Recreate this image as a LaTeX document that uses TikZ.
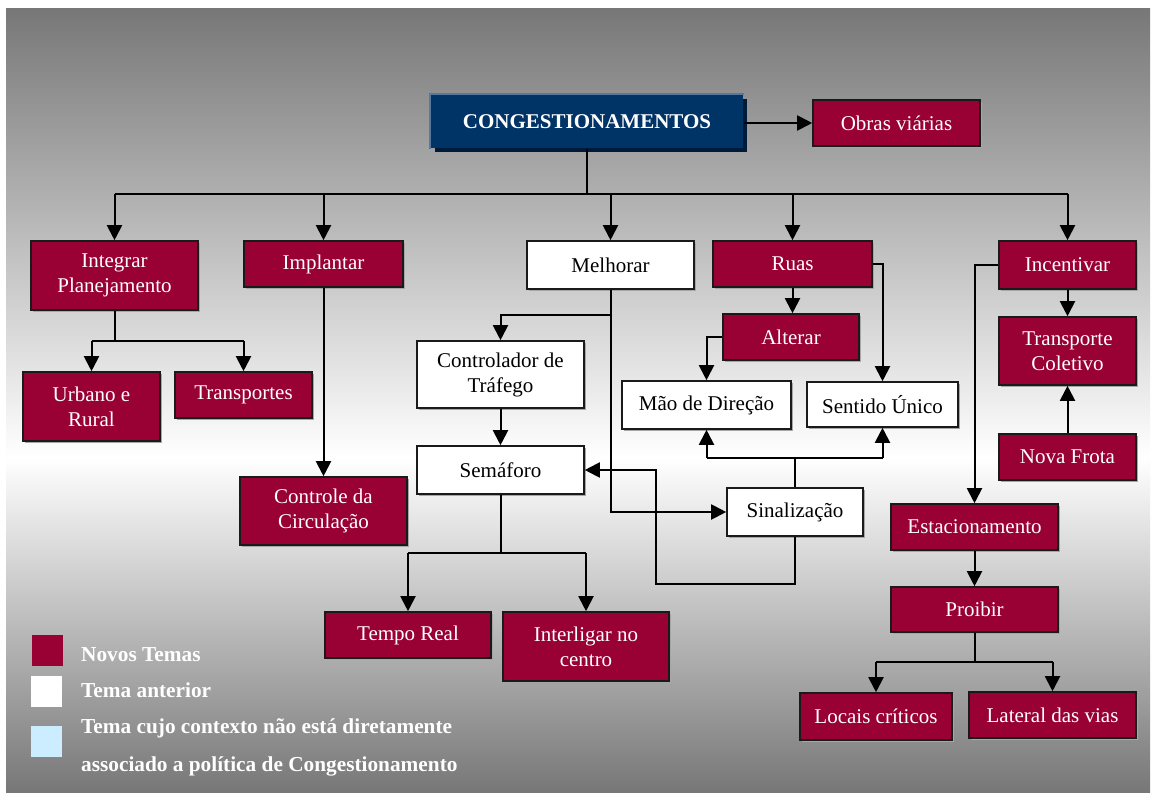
\documentclass[tikz,border=0pt]{standalone}
\usepackage{fontspec}
\setmainfont{Liberation Serif}
\usetikzlibrary{arrows.meta,shadows,calc}
\definecolor{maroon}{HTML}{990033}
\definecolor{navy}{HTML}{003366}
\definecolor{navyedge}{HTML}{5577A0}
\definecolor{navyshadow}{HTML}{001A3A}
\definecolor{bgray}{HTML}{777777}
\definecolor{lblue}{HTML}{CCECFF}
\definecolor{edge}{HTML}{1A1A1A}
\begin{document}
\begin{tikzpicture}[x=1pt,y=-1pt,
 basebox/.style={line width=1.6pt, inner sep=0pt, align=center, font=\fontsize{21}{25}\selectfont},
 box/.style={basebox, draw=edge, general shadow={fill=black!35, shadow xshift=2pt, shadow yshift=-2pt}},
 newbox/.style={box, fill=maroon, text=white},
 oldbox/.style={box, fill=white, text=black},
 sz/.style 2 args={minimum width=#1pt, minimum height=#2pt},
 conn/.style={line width=2pt, draw=black},
 arr/.style={conn, -{Triangle[length=15pt,width=15pt]}},
 legsq/.style={inner sep=0pt, minimum width=31pt, minimum height=31pt},
 legtext/.style={anchor=base west, text=white, font=\fontsize{21.3}{25}\selectfont\bfseries, inner sep=0pt}
]
\useasboundingbox (0,0) rectangle (1157,795);
\fill[white] (0,0) rectangle (1157,795);
\shade[top color=bgray, bottom color=white] (6,8) rectangle (1150,458);
\shade[top color=white, bottom color=bgray] (6,457.5) rectangle (1150,792);

% title
\node[basebox, fill=navy, text=white, font=\fontsize{21}{25}\selectfont\bfseries,
      sz={312}{53}, general shadow={fill=navyshadow, shadow xshift=4pt, shadow yshift=-4pt}] (cong) at (587,121.5) {CONGESTIONAMENTOS};
\draw[navyedge, line width=2pt] (cong.south west) -- (cong.north west) -- (cong.north east);
\node[newbox, sz={167}{46}] (obras) at (896.5,123) {Obras viárias};

% second row
\node[newbox, sz={167}{69}] (integ) at (114.5,275.5) {Integrar\\Planejamento};
\node[newbox, sz={159}{46}] (impl) at (323.5,264) {Implantar};
\node[oldbox, sz={167}{48}] (melh) at (610.5,265) {Melhorar};
\node[newbox, sz={159}{46}] (ruas) at (792.5,264) {Ruas};
\node[newbox, sz={137}{48}] (incent) at (1067.5,265) {Incentivar};

% left branch
\node[newbox, sz={137}{69}] (urbano) at (91.5,406.5) {Urbano e\\Rural};
\node[newbox, sz={137}{46}] (transp) at (243.5,395) {Transportes};
\node[newbox, sz={167}{68}] (controle) at (323.5,511) {Controle da\\Circulação};

% middle
\node[oldbox, sz={167}{67}] (ctrl) at (500.5,374.5) {Controlador de\\Tráfego};
\node[oldbox, sz={167}{48}] (semaf) at (500.5,470) {Semáforo};
\node[newbox, sz={166}{46}] (tempo) at (408,635) {Tempo Real};
\node[newbox, sz={166}{69}] (interl) at (586,646.5) {Interligar no\\centro};

\node[newbox, sz={136}{46}] (alterar) at (791,337) {Alterar};
\node[oldbox, sz={169}{48}] (mao) at (706.5,405) {Mão de Direção};
\node[oldbox, sz={151}{45}] (sentido) at (882.5,404.5) {Sentido Único};
\node[oldbox, sz={136}{48}] (sinal) at (795,512) {Sinalização};

% right
\node[newbox, sz={137}{68}] (transcol) at (1067.5,351) {Transporte\\Coletivo};
\node[newbox, sz={137}{46}] (nova) at (1067.5,457) {Nova Frota};
\node[newbox, sz={167}{46}] (estac) at (974.5,527) {Estacionamento};
\node[newbox, sz={167}{45}] (proib) at (974.5,609.5) {Proibir};
\node[newbox, sz={152}{47}] (locais) at (876,716.5) {Locais críticos};
\node[newbox, sz={167}{46}] (lateral) at (1052.5,715) {Lateral das vias};

% connectors
\coordinate (bus) at (587,194);
\draw[arr] (cong.east|-obras.west) -- (obras.west);
\draw[conn] (cong.south) -- (bus);
\draw[conn] (integ.north|-bus) -- (incent.north|-bus);
\foreach \n in {integ,impl,melh,ruas,incent}
  \draw[arr] (\n.north|-bus) -- (\n.north);

\coordinate (ib) at (114.5,341);
\draw[conn] (integ.south) -- (ib);
\draw[conn] (urbano.north|-ib) -- (transp.north|-ib);
\draw[arr] (urbano.north|-ib) -- (urbano.north);
\draw[arr] (transp.north|-ib) -- (transp.north);

\draw[arr] (impl.south) -- (controle.north);

\coordinate (mb) at (610.5,315);
\draw[arr] (melh.south) |- (sinal.west);
\draw[arr] (mb) -| (ctrl.north);
\draw[arr] (ctrl.south) -- (semaf.north);

\coordinate (sb) at (500.5,553);
\draw[conn] (semaf.south) -- (sb);
\draw[conn] (tempo.north|-sb) -- (interl.north|-sb);
\draw[arr] (tempo.north|-sb) -- (tempo.north);
\draw[arr] (interl.north|-sb) -- (interl.north);

\coordinate (loopL) at (656,584);
\draw[arr] (sinal.south) |- (loopL) |- (semaf.east);

\coordinate (sy) at (795,458);
\draw[conn] (sinal.north) -- (sy);
\draw[conn] (mao.south|-sy) -- (sentido.south|-sy);
\draw[arr] (mao.south|-sy) -- (mao.south);
\draw[arr] (sentido.south|-sy) -- (sentido.south);

\draw[arr] (ruas.south) -- (ruas.south|-alterar.north);
\draw[arr] (ruas.east) -| (sentido.north);
\draw[arr] (alterar.west) -| (mao.north);

\draw[arr] (incent.south) -- (transcol.north);
\draw[arr] (nova.north) -- (transcol.south);
\draw[arr] (incent.west) -| (estac.north);
\draw[arr] (estac.south) -- (proib.north);

\coordinate (pb) at (974.5,662);
\draw[conn] (proib.south) -- (pb);
\draw[conn] (locais.north|-pb) -- (lateral.north|-pb);
\draw[arr] (locais.north|-pb) -- (locais.north);
\draw[arr] (lateral.north|-pb) -- (lateral.north);

% legend
\node[legsq, fill=maroon] (lg1) at (47.5,650.5) {};
\node[legsq, fill=white] (lg2) at (46.5,691.5) {};
\node[legsq, fill=lblue] (lg3) at (46.5,741.5) {};
\node[legtext] (lt1) at (81,661) {Novos Temas};
\node[legtext] (lt2) at (81,697) {Tema anterior};
\node[legtext] (lt3) at (81,733) {Tema cujo contexto não está diretamente};
\node[legtext] (lt4) at (81,771) {associado a política de Congestionamento};
\end{tikzpicture}
\end{document}
